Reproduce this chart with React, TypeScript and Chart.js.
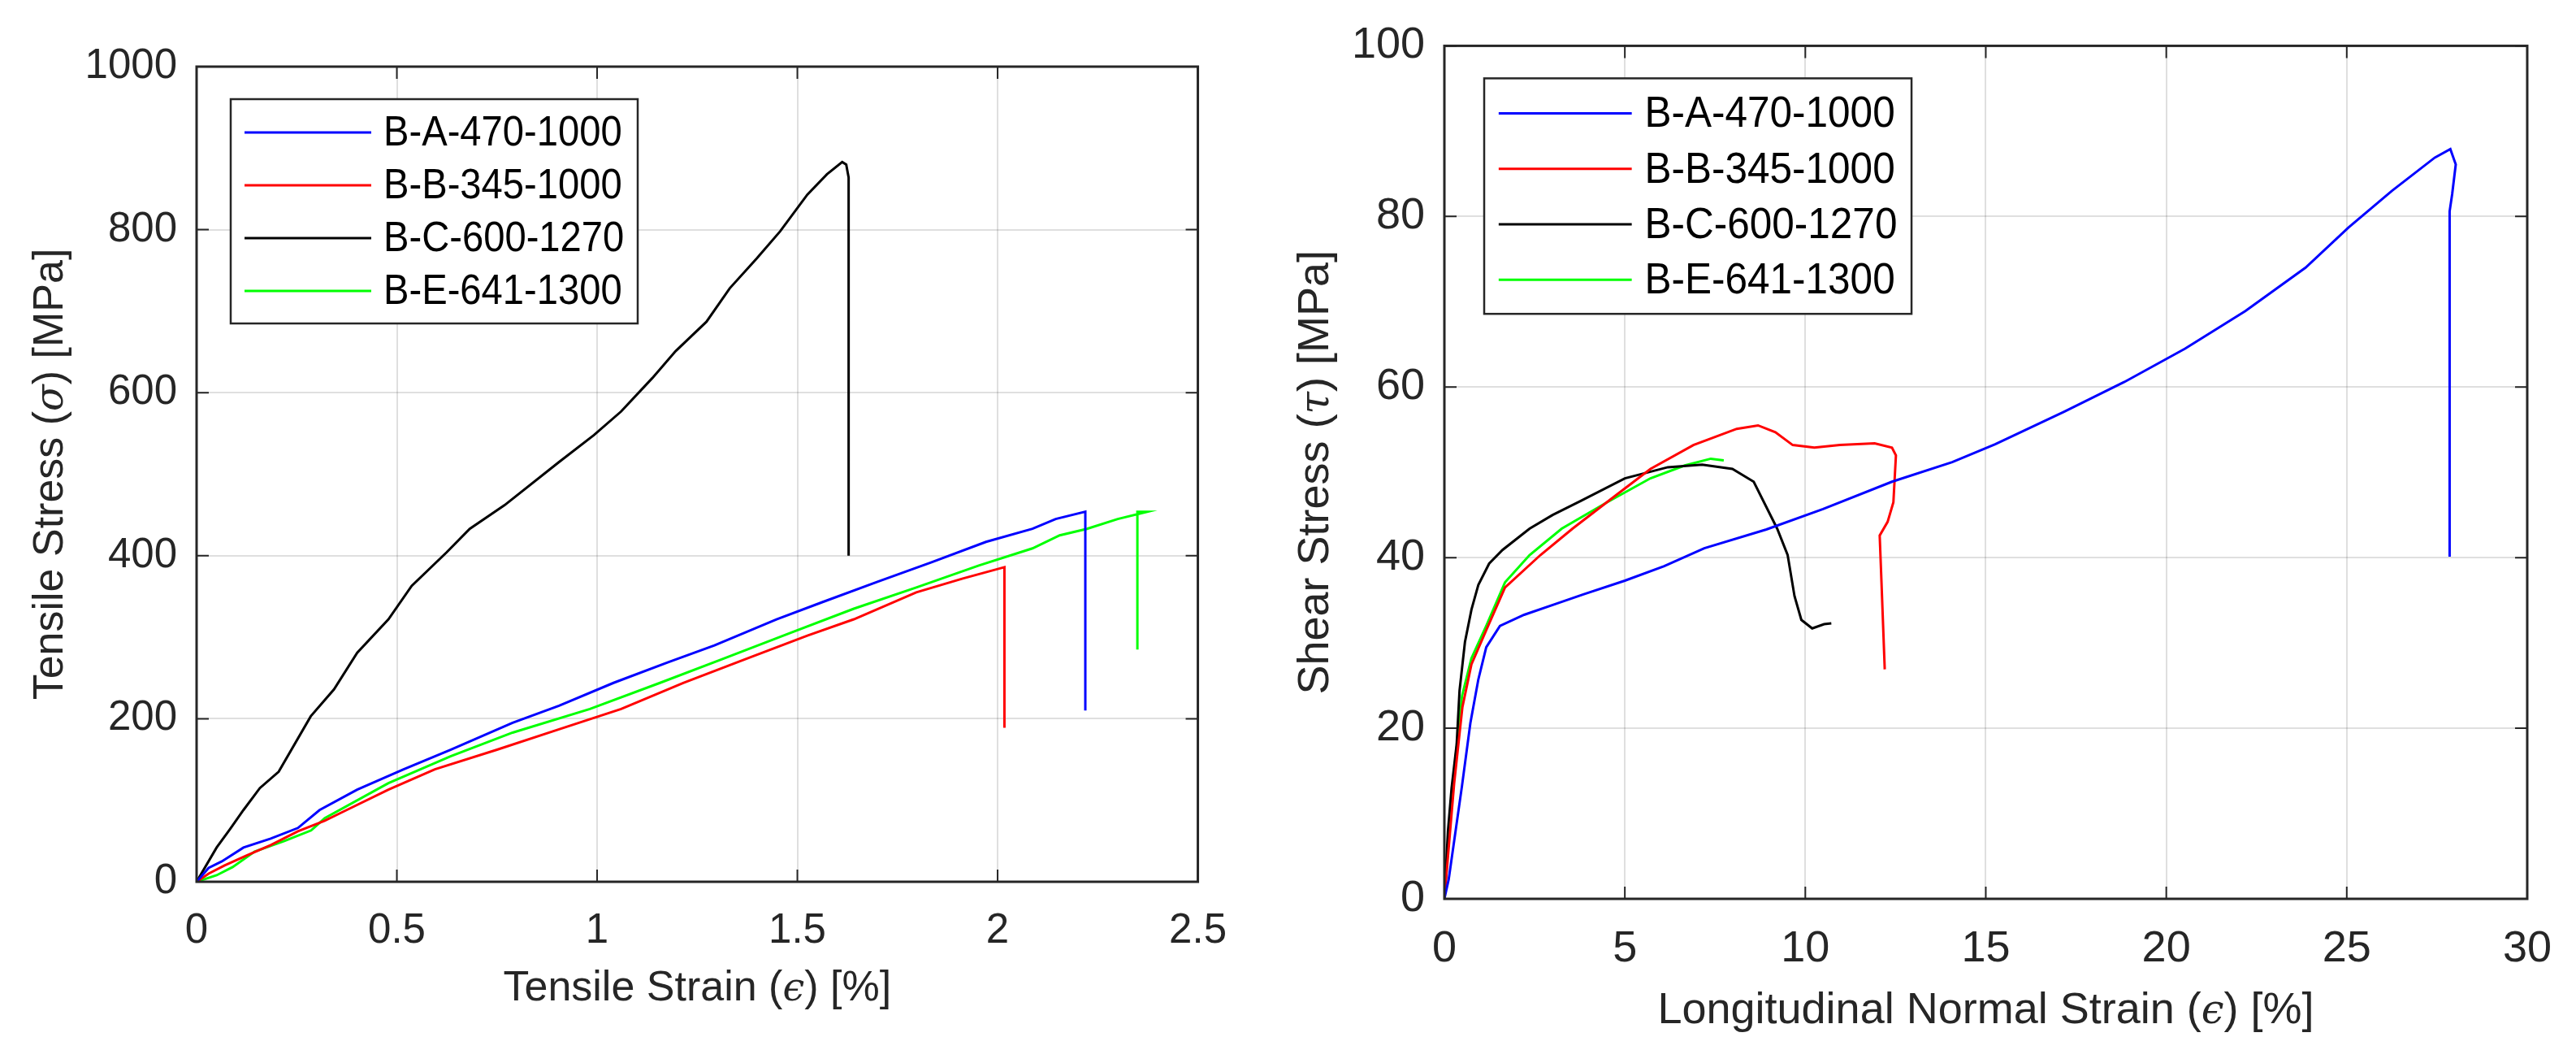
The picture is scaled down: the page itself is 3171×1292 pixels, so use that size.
import { useEffect, useRef } from "react"
import { Chart, registerables } from "chart.js"

Chart.register(...registerables)

const seriesLabels = ["B-A-470-1000", "B-B-345-1000", "B-C-600-1270", "B-E-641-1300"]
const seriesColors = ["#0000ff", "#ff0000", "#000000", "#00ff00"]

// Tensile test: strain [%] vs stress [MPa]
const tensileStrainA = [0, 0.03, 0.063, 0.117, 0.185, 0.253, 0.307, 0.401, 0.517, 0.634, 0.789, 0.905, 1.041, 1.176, 1.293, 1.448, 1.562, 1.7, 1.835, 1.971, 2.087, 2.145, 2.219, 2.219]
const tensileStressA = [0, 17, 25, 42, 53, 66, 88, 113, 138, 162, 195, 216, 244, 269, 290, 322, 343, 368, 392, 417, 433, 445, 454, 210]
const tensileStrainB = [0, 0.03, 0.07, 0.124, 0.185, 0.253, 0.32, 0.362, 0.479, 0.595, 0.75, 0.905, 1.06, 1.215, 1.37, 1.525, 1.641, 1.797, 1.913, 2.017, 2.017]
const tensileStressB = [0, 10, 20, 32, 45, 62, 75, 85, 113, 138, 162, 187, 212, 244, 273, 302, 322, 355, 372, 386, 189]
const tensileStrainC = [0, 0.05, 0.084, 0.117, 0.158, 0.205, 0.285, 0.343, 0.401, 0.479, 0.537, 0.624, 0.682, 0.769, 0.905, 0.992, 1.06, 1.138, 1.196, 1.273, 1.331, 1.399, 1.457, 1.525, 1.574, 1.612, 1.622, 1.628, 1.628]
const tensileStressC = [0, 42, 65, 88, 115, 135, 203, 236, 281, 322, 363, 404, 433, 462, 515, 548, 577, 618, 651, 687, 728, 765, 798, 843, 868, 883, 880, 864, 400]
const tensileStrainE = [0, 0.05, 0.09, 0.145, 0.219, 0.286, 0.32, 0.479, 0.634, 0.789, 0.982, 1.157, 1.312, 1.486, 1.641, 1.797, 1.953, 2.087, 2.155, 2.223, 2.3, 2.374, 2.349, 2.349]
const tensileStressE = [0, 8, 18, 37, 50, 63, 78, 121, 154, 183, 212, 244, 273, 306, 335, 361, 388, 409, 425, 433, 445, 454, 454, 285]

// Shear test: longitudinal normal strain [%] vs shear stress [MPa]
const shearStrainA = [0, 0.12, 0.49, 0.72, 0.94, 1.16, 1.54, 2.21, 3.1, 3.85, 5, 6.09, 7.2, 8.92, 10.49, 12.4, 14.07, 15.26, 17.17, 18.84, 20.52, 22.19, 23.86, 25.05, 26.25, 27.44, 27.87, 28.02, 27.92, 27.85, 27.85]
const shearStressA = [0, 2.3, 13.3, 20.6, 25.7, 29.5, 32, 33.3, 34.6, 35.7, 37.3, 39, 41.1, 43.3, 45.7, 48.9, 51.2, 53.3, 57.1, 60.6, 64.5, 68.9, 74, 78.7, 83, 86.9, 87.9, 86.1, 82.6, 80.6, 40.1]
const shearStrainB = [0, 0.1, 0.27, 0.5, 0.75, 1.16, 1.68, 2.66, 3.55, 4.75, 5.71, 6.9, 8.1, 8.69, 9.17, 9.65, 10.25, 10.96, 11.92, 12.4, 12.51, 12.44, 12.28, 12.06, 12.11, 12.2]
const shearStressB = [0, 5, 13.5, 22.5, 27.5, 31.5, 36.5, 40.3, 43.4, 47.3, 50.4, 53.2, 55.1, 55.5, 54.7, 53.2, 52.9, 53.2, 53.4, 52.9, 52, 46.5, 44.2, 42.6, 37.1, 26.9]
const shearStrainC = [0, 0.1, 0.2, 0.34, 0.42, 0.57, 0.75, 0.94, 1.24, 1.61, 2.36, 3, 3.8, 5, 6.19, 7.14, 7.98, 8.57, 9.22, 9.51, 9.7, 9.89, 10.19, 10.52, 10.72]
const shearStressC = [0, 8, 13, 18.1, 24.4, 30.1, 33.9, 36.8, 39.3, 40.9, 43.4, 45, 46.7, 49.3, 50.6, 50.9, 50.4, 48.9, 43.4, 40.3, 35.5, 32.7, 31.7, 32.2, 32.3]
const shearStrainE = [0, 0.1, 0.27, 0.49, 0.75, 1.16, 1.68, 2.36, 3.25, 4.51, 5.71, 6.66, 7.38, 7.74]
const shearStressE = [0, 6, 14.9, 23.8, 28.2, 32, 37.1, 40.3, 43.4, 46.5, 49.3, 50.8, 51.6, 51.4]

const tensileStrainTicks = [0, 0.5, 1, 1.5, 2, 2.5]
const tensileStressTicks = [0, 200, 400, 600, 800, 1000]
const shearStrainTicks = [0, 5, 10, 15, 20, 25, 30]
const shearStressTicks = [0, 20, 40, 60, 80, 100]

type Segment = { text: string; greek?: boolean }

const tensileXTitle: Segment[] = [{ text: "Tensile Strain (" }, { text: "ϵ", greek: true }, { text: ") [%]" }]
const tensileYTitle: Segment[] = [{ text: "Tensile Stress (" }, { text: "σ", greek: true }, { text: ") [MPa]" }]
const shearXTitle: Segment[] = [{ text: "Longitudinal Normal Strain (" }, { text: "ϵ", greek: true }, { text: ") [%]" }]
const shearYTitle: Segment[] = [{ text: "Shear Stress (" }, { text: "τ", greek: true }, { text: ") [MPa]" }]

const AXIS_COLOR = "#262626"
const SANS = "'Liberation Sans', Arial, sans-serif"

interface PanelProps {
  xs: number[][]
  ys: number[][]
  xTicks: number[]
  yTicks: number[]
  xTitle: Segment[]
  yTitle: Segment[]
  width: number
  height: number
  area: { left: number; top: number; right: number; bottom: number }
  tickFont: number
  titleFont: number
  legendFont: number
  legendSqueeze: number
  xTitleOffset: number
  yTitleOffset: number
  legendScale: number
  legendDx: number
  legendDy: number
}

function drawSegments(ctx: CanvasRenderingContext2D, segs: Segment[], x: number, y: number, size: number, rotate: boolean) {
  ctx.save()
  ctx.translate(x, y)
  if (rotate) ctx.rotate(-Math.PI / 2)
  const fonts = segs.map((s) => (s.greek ? `italic ${size * 0.92}px 'DejaVu Serif', serif` : `${size}px ${SANS}`))
  let total = 0
  const widths = segs.map((s, i) => {
    ctx.font = fonts[i]
    const w = ctx.measureText(s.text).width
    total += w
    return w
  })
  let cx = -total / 2
  ctx.textAlign = "left"
  ctx.textBaseline = "alphabetic"
  ctx.fillStyle = AXIS_COLOR
  segs.forEach((s, i) => {
    ctx.font = fonts[i]
    ctx.fillText(s.text, cx, 0)
    cx += widths[i]
  })
  ctx.restore()
}

function Panel(props: PanelProps) {
  const chartRef = useRef<HTMLCanvasElement>(null)
  const chartInstance = useRef<Chart | null>(null)

  useEffect(() => {
    if (!chartRef.current) return
    if (chartInstance.current) chartInstance.current.destroy()
    const ctx = chartRef.current.getContext("2d")
    if (!ctx) return

    const { area, xTicks, yTicks } = props

    // MATLAB-like box, inward ticks on all sides, legend and axis titles
    const axesPlugin = {
      id: "matlabAxes",
      afterDraw(chart: Chart) {
        const c = chart.ctx
        const ca = chart.chartArea
        const xs = chart.scales.x
        const ys = chart.scales.y
        c.save()
        c.strokeStyle = AXIS_COLOR
        c.lineWidth = 2
        const tl = 15
        xTicks.forEach((v) => {
          const px = xs.getPixelForValue(v)
          c.beginPath()
          c.moveTo(px, ca.bottom)
          c.lineTo(px, ca.bottom - tl)
          c.moveTo(px, ca.top)
          c.lineTo(px, ca.top + tl)
          c.stroke()
        })
        yTicks.forEach((v) => {
          const py = ys.getPixelForValue(v)
          c.beginPath()
          c.moveTo(ca.left, py)
          c.lineTo(ca.left + tl, py)
          c.moveTo(ca.right, py)
          c.lineTo(ca.right - tl, py)
          c.stroke()
        })
        c.lineWidth = 3
        c.strokeRect(ca.left, ca.top, ca.right - ca.left, ca.bottom - ca.top)

        // legend
        const k = props.legendScale
        const lx = ca.left + props.legendDx
        const ly = ca.top + props.legendDy
        const lw = 501 * k
        const lh = 276 * k
        c.fillStyle = "#ffffff"
        c.fillRect(lx, ly, lw, lh)
        c.lineWidth = 2.5
        c.strokeStyle = AXIS_COLOR
        c.strokeRect(lx, ly, lw, lh)
        c.font = `${props.legendFont}px ${SANS}`
        c.textAlign = "left"
        c.textBaseline = "middle"
        chart.data.datasets.forEach((ds, i) => {
          const ey = ly + (41 + i * 65) * k
          c.strokeStyle = ds.borderColor as string
          c.lineWidth = 3
          c.beginPath()
          c.moveTo(lx + 17 * k, ey)
          c.lineTo(lx + 173 * k, ey)
          c.stroke()
          c.save()
          c.translate(lx + 188 * k, ey + 2)
          c.scale(props.legendSqueeze, 1)
          c.fillStyle = "#000000"
          c.fillText(ds.label ?? "", 0, 0)
          c.restore()
        })
        c.restore()

        drawSegments(c, props.xTitle, (ca.left + ca.right) / 2, ca.bottom + props.xTitleOffset, props.titleFont, false)
        drawSegments(c, props.yTitle, ca.left - props.yTitleOffset, (ca.top + ca.bottom) / 2, props.titleFont, true)
      },
    }

    const tickFont = { family: SANS, size: props.tickFont }

    chartInstance.current = new Chart(ctx, {
      type: "scatter",
      data: {
        datasets: props.xs.map((xArr, i) => ({
          label: seriesLabels[i],
          data: xArr.map((x, j) => ({ x, y: props.ys[i][j] })),
          showLine: true,
          borderColor: seriesColors[i],
          backgroundColor: seriesColors[i],
          borderWidth: 3,
          pointRadius: 0,
          tension: 0,
        })),
      },
      options: {
        responsive: true,
        maintainAspectRatio: false,
        animation: false,
        layout: {
          padding: { left: 0, top: area.top, right: props.width - area.right, bottom: 0 },
        },
        plugins: {
          legend: { display: false },
          tooltip: { enabled: false },
        },
        scales: {
          x: {
            type: "linear",
            min: xTicks[0],
            max: xTicks[xTicks.length - 1],
            afterBuildTicks: (scale) => {
              scale.ticks = xTicks.map((value) => ({ value }))
            },
            afterFit: (scale) => {
              scale.height = props.height - area.bottom
            },
            grid: { color: "rgba(38,38,38,0.15)", lineWidth: 2, drawTicks: false },
            border: { display: false },
            ticks: {
              color: AXIS_COLOR,
              font: tickFont,
              padding: 30,
              maxRotation: 0,
              callback: (v) => String(v),
            },
          },
          y: {
            type: "linear",
            min: yTicks[0],
            max: yTicks[yTicks.length - 1],
            afterBuildTicks: (scale) => {
              scale.ticks = yTicks.map((value) => ({ value }))
            },
            afterFit: (scale) => {
              scale.width = area.left
            },
            grid: { color: "rgba(38,38,38,0.15)", lineWidth: 2, drawTicks: false },
            border: { display: false },
            ticks: {
              color: AXIS_COLOR,
              font: tickFont,
              padding: 24,
              callback: (v) => String(v),
            },
          },
        },
      },
      plugins: [axesPlugin],
    })

    return () => {
      if (chartInstance.current) {
        chartInstance.current.destroy()
        chartInstance.current = null
      }
    }
  }, [props])

  return (
    <div style={{ position: "relative", width: props.width, height: props.height }}>
      <canvas ref={chartRef} />
    </div>
  )
}

const tensileProps: PanelProps = {
  xs: [tensileStrainA, tensileStrainB, tensileStrainC, tensileStrainE],
  ys: [tensileStressA, tensileStressB, tensileStressC, tensileStressE],
  xTicks: tensileStrainTicks,
  yTicks: tensileStressTicks,
  xTitle: tensileXTitle,
  yTitle: tensileYTitle,
  width: 1540,
  height: 1292,
  area: { left: 242, top: 82, right: 1476, bottom: 1085 },
  tickFont: 51,
  titleFont: 52,
  legendFont: 51,
  legendSqueeze: 0.925,
  xTitleOffset: 146,
  yTitleOffset: 165,
  legendScale: 1,
  legendDx: 42,
  legendDy: 40,
}

const shearProps: PanelProps = {
  xs: [shearStrainA, shearStrainB, shearStrainC, shearStrainE],
  ys: [shearStressA, shearStressB, shearStressC, shearStressE],
  xTicks: shearStrainTicks,
  yTicks: shearStressTicks,
  xTitle: shearXTitle,
  yTitle: shearYTitle,
  width: 1631,
  height: 1292,
  area: { left: 238, top: 54, right: 1579, bottom: 1106 },
  tickFont: 54,
  titleFont: 54,
  legendFont: 54,
  legendSqueeze: 0.917,
  xTitleOffset: 153,
  yTitleOffset: 143,
  legendScale: 1.05,
  legendDx: 49,
  legendDy: 40,
}

export default function App() {
  return (
    <div style={{ position: "fixed", left: 0, top: 0, width: 3171, height: 1292, background: "#ffffff", display: "flex" }}>
      <Panel {...tensileProps} />
      <Panel {...shearProps} />
    </div>
  )
}
